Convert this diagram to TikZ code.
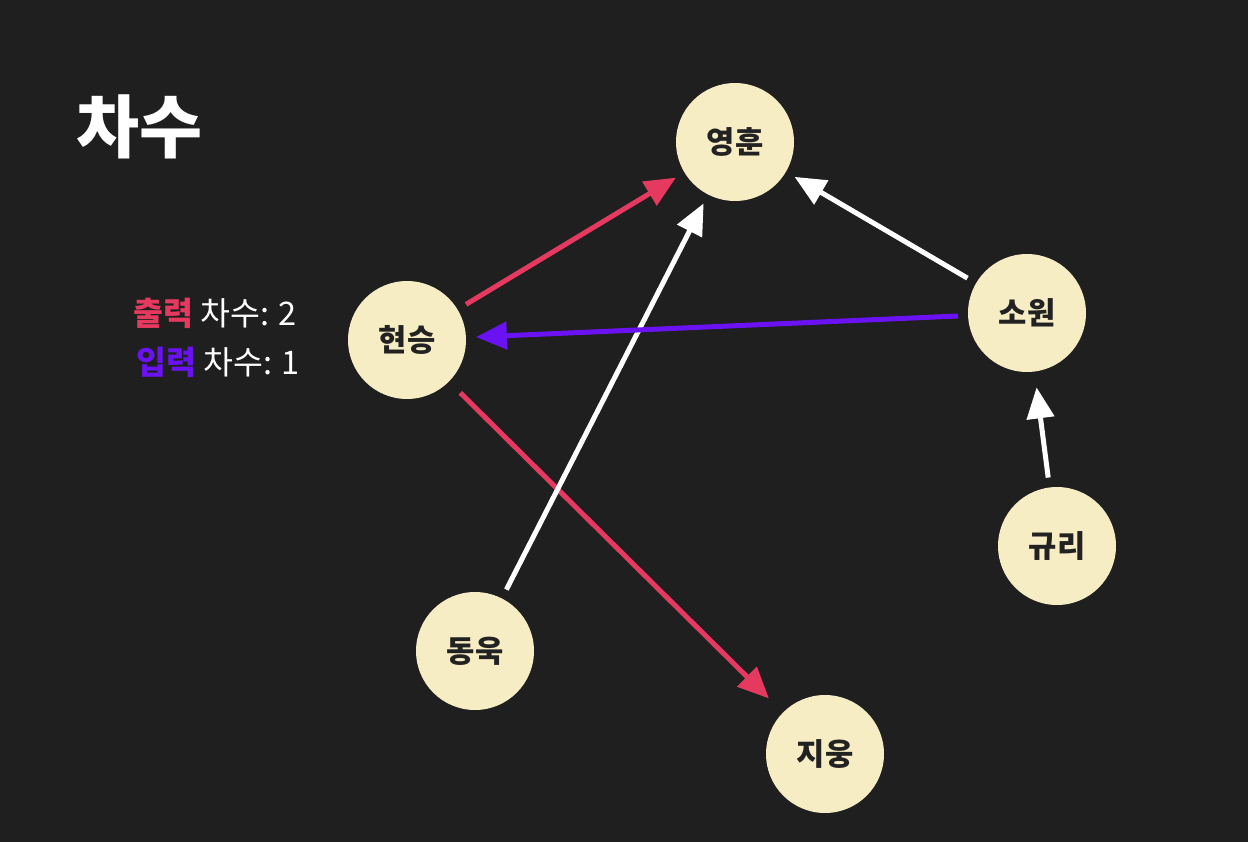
\documentclass[tikz,border=0pt]{standalone}
\usepackage{fontspec}
\setmainfont{Noto Sans CJK KR}
\usepackage{tikz}
\usetikzlibrary{arrows.meta}

\definecolor{bgdark}{HTML}{1F1F1F}
\definecolor{nodecream}{HTML}{F7EDC4}
\definecolor{outred}{HTML}{E6395F}
\definecolor{inpurple}{HTML}{6A12F2}
\definecolor{nametext}{HTML}{222222}

\begin{document}
\begin{tikzpicture}[x=0.02cm, y=-0.02cm, >={Triangle[length=0.62cm, width=0.54cm]},
    person/.style={circle, fill=nodecream, minimum size=2.36cm, inner sep=0pt,
        outer sep=0.2cm, text=nametext, font=\fontsize{17.5}{20}\selectfont\bfseries},
    edge/.style={->, line width=0.1cm, white},
    degree/.style={anchor=west, text=white, font=\fontsize{18.5}{22}\selectfont}]
            \fill[bgdark] (0,0) rectangle (1248,842);

            \node[anchor=west, text=white, font=\fontsize{39}{44}\selectfont\bfseries] (title) at (70,127) {차수};

            \node[person] (yh) at (735,142) {영훈};
            \node[person] (hs) at (407,340) {현승};
            \node[person] (sw) at (1027,313) {소원};
            \node[person] (gr) at (1057,546) {규리};
            \node[person] (du) at (475,651) {동욱};
            \node[person] (ju) at (825,754) {지웅};

            \draw[edge, outred] (hs) -- (yh);
            \draw[edge, outred, shorten <=0.12cm, shorten >=0.2cm] (hs) -- (ju);
            \draw[edge] (du) -- (yh);
            \draw[edge] (sw) -- (yh);
            \draw[edge, inpurple] (sw) -- (hs);
            \draw[edge, shorten >=0.12cm] (gr) -- (sw);

            \node[degree] (outdeg) at (127,313) {\textcolor{outred}{\bfseries 출력} 차수: 2};
            \node[degree] (indeg) at (130,362) {\textcolor{inpurple}{\bfseries 입력} 차수: 1};
        \end{tikzpicture}
\end{document}
